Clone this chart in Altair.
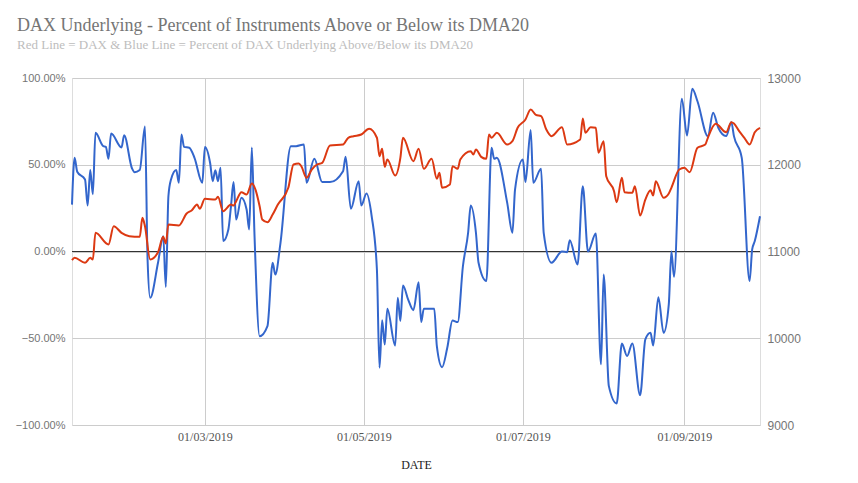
import altair as alt
import pandas as pd

# Blue series: percent of DAX underlying above/below DMA20 (day of year 2019, value in %)
blue_day = [8, 9, 10, 13, 14, 15, 16, 17, 20, 21, 22, 23, 27, 28, 31, 32, 34, 36, 37, 38,
            41, 43, 44, 45, 46, 48, 49, 50, 51, 53, 55, 58, 59, 61, 62, 63, 64, 65, 66, 68,
            69, 70, 71, 73, 75, 76, 77, 78, 80, 83, 85, 86, 88, 92, 94, 97, 98, 101, 104, 107,
            112, 113, 115, 118, 119, 121, 123, 125, 126, 127, 128, 129, 132, 133, 134, 135, 137, 139, 141, 142,
            143, 147, 148, 150, 152, 154, 156, 158, 160, 161, 163, 164, 167, 169, 170, 171, 175, 177, 178, 181,
            182, 184, 185, 188, 189, 192, 196, 198, 199, 202, 204, 206, 209, 211, 212, 214, 217, 219, 221, 223,
            226, 228, 230, 231, 233, 235, 237, 238, 239, 242, 244, 246, 248, 252, 254, 256, 259, 261, 262, 265,
            268, 269, 270, 272]
blue_pct = [27, 54, 46, 41.5, 26.5, 47, 33, 68.4, 60.7, 60.3, 53.4, 68, 60, 67, 48, 45.7, 47, 72, -4.6, -26.7,
            -6.5, 8.8, -20.4, 32, 41.5, 47, 39.6, 67.4, 60.3, 59.8, 54, 39.6, 60.3, 51, 40.5, 46.9, 40.5, 48.2, 6, 12.7,
            26, 40, 18.4, 31, 24.2, 12.7, 60, 10.8, -48.8, -43, -6.5, -13.3, 5, 60.7, 60.7, 61.7, 39.6, 53.4, 40, 40,
            46.3, 54.6, 24.6, 40.5, 26.5, 33.4, 20.3, -10.4, -67, -39.6, -53.6, -33, -54.2, -26.7, -40, -19.6, -27.7, -33.8, -17.7, -40.7,
            -33, -33, -54.6, -66.7, -55.5, -39.8, -40.7, -8.5, 10.8, 26.5, 10.8, -6.5, -17, 59.8, 53.4, 54, 28, 10.8, 35.7, 53,
            40, 70, 39.6, 47.7, 10.8, -6.5, 0, -0.4, 6.5, -7.5, 37.6, 0, 10.4, -65, -13.3, -77.6, -87.6, -53, -60.3, -53,
            -82.8, -50.7, -46.9, -54.2, -26.3, -46.9, -30.5, 0, -14.6, 88, 66.9, 93.8, 86.6, 66.5, 80, 71.3, 66.5, 74.5, 66.5, 54,
            -17, 1.2, 6, 20.3]

# Red series: DAX index level
red_day = [8, 9, 13, 15, 16, 17, 22, 24, 27, 30, 34, 35, 36, 38, 41, 43, 44, 45, 49, 52,
           54, 56, 57, 59, 63, 64, 66, 69, 70, 71, 73, 75, 77, 80, 81, 83, 85, 87, 91, 93,
           95, 96, 98, 100, 102, 104, 107, 112, 114, 116, 119, 122, 125, 126, 127, 128, 129, 132, 134, 135,
           139, 141, 143, 146, 148, 149, 150, 153, 154, 156, 157, 161, 162, 163, 165, 167, 168, 169, 171, 175,
           177, 179, 182, 184, 186, 188, 190, 192, 196, 198, 203, 204, 205, 207, 209, 210, 212, 213, 216, 217,
           219, 220, 223, 224, 226, 228, 230, 231, 232, 235, 237, 238, 241, 243, 245, 248, 251, 252, 255, 259,
           261, 262, 264, 266, 268, 270, 272]
red_dax = [10900, 10927, 10870, 10927, 10908, 11215, 11080, 11292, 11215, 11176, 11169, 11388, 11292, 10908, 10992, 11169, 11092, 11311, 11300, 11438,
           11476, 11541, 11492, 11607, 11599, 11630, 11465, 11541, 11530, 11580, 11684, 11657, 11784, 11522, 11369, 11338, 11426, 11541, 11734, 12003,
           12014, 11983, 11849, 11945, 12003, 12022, 12222, 12233, 12311, 12329, 12349, 12414, 12311, 12099, 12184, 11976, 12060, 11876, 12080, 12311,
           12041, 12184, 11953, 12068, 11838, 11907, 11734, 11772, 11983, 11953, 12060, 12156, 12118, 12176, 12091, 12068, 12349, 12311, 12368, 12233,
           12272, 12426, 12522, 12637, 12575, 12560, 12406, 12329, 12433, 12233, 12291, 12533, 12368, 12433, 12426, 12138, 12272, 11868, 11695, 11568,
           11849, 11684, 11676, 11753, 11415, 11599, 11707, 11645, 11810, 11619, 11668, 11734, 11945, 11965, 11914, 12195, 12233, 12311, 12472, 12375,
           12490, 12475, 12387, 12311, 12233, 12375, 12426]

pct_ticks = [-1, -0.5, 0, 0.5, 1]
dax_ticks = [9000, 10000, 11000, 12000, 13000]
date_ticks = [(2019, 3, 1), (2019, 5, 1), (2019, 7, 1), (2019, 9, 1)]

base = pd.Timestamp("2019-01-01")
blue_df = pd.DataFrame({"date": base + pd.to_timedelta(blue_day, unit="D"),
                        "pct": [v / 100 for v in blue_pct]})
red_df = pd.DataFrame({"date": base + pd.to_timedelta(red_day, unit="D"),
                       "dax": red_dax})
zero_df = pd.DataFrame({"z": [0]})

serif = "Liberation Serif"
sans = "Liberation Sans"

x_enc = alt.X(
    "date:T",
    scale=alt.Scale(domain=[alt.DateTime(year=2019, month=1, date=9),
                            alt.DateTime(year=2019, month=9, date=30)], nice=False),
    axis=alt.Axis(
        values=[alt.DateTime(year=y, month=m, date=d) for (y, m, d) in date_ticks],
        format="%d/%m/%Y", title="DATE", grid=True, gridColor="#cccccc", gridWidth=1,
        domain=False, ticks=False, labelFont=serif, labelFontSize=12, labelColor="#555555",
        labelPadding=6, titleFont=serif, titleFontSize=12, titleFontWeight="normal",
        titleColor="#222222", titlePadding=17,
    ),
)

pct_scale = alt.Scale(domain=[-1, 1], nice=False, zero=False)

rule = alt.Chart(zero_df).mark_rule(color="#333333", strokeWidth=1).encode(
    y=alt.datum(0, scale=pct_scale)
)

blue = alt.Chart(blue_df).mark_line(color="#3366cc", strokeWidth=2, interpolate="monotone").encode(
    x=x_enc,
    y=alt.Y("pct:Q", scale=pct_scale,
            axis=alt.Axis(values=pct_ticks, format=".2%", grid=True, gridColor="#cccccc",
                          domain=False, ticks=False, labelFont=sans, labelFontSize=11,
                          labelColor="#757575", labelPadding=7, title=None)),
)

red = alt.Chart(red_df).mark_line(color="#dc3912", strokeWidth=2, interpolate="monotone").encode(
    x=x_enc,
    y=alt.Y("dax:Q", scale=alt.Scale(domain=[9000, 13000], nice=False, zero=False),
            axis=alt.Axis(orient="right", values=dax_ticks, format="d", grid=False,
                          domain=False, ticks=False, labelFont=sans, labelFontSize=12,
                          labelColor="#757575", labelPadding=7, title=None)),
)

left = alt.layer(rule, blue)

chart = alt.layer(left, red).resolve_scale(y="independent").properties(
    width=688,
    height=347,
    autosize=alt.AutoSizeParams(type="none"),
    padding={"left": 64, "top": 70, "right": 90, "bottom": 50},
    title=alt.Title(
        "DAX Underlying - Percent of Instruments Above or Below its DMA20",
        subtitle="Red Line = DAX & Blue Line = Percent of DAX Underlying Above/Below its DMA20",
        anchor="start", frame="group", dx=-55, offset=20,
        font=serif, fontSize=18, fontWeight="normal", color="#757575",
        subtitleFont=serif, subtitleFontSize=13, subtitleColor="#bdbdbd", subtitlePadding=4,
    ),
).configure_view(stroke=None).configure(background="white")

chart.save("out.html", embed_options={"renderer": "svg", "actions": False})
